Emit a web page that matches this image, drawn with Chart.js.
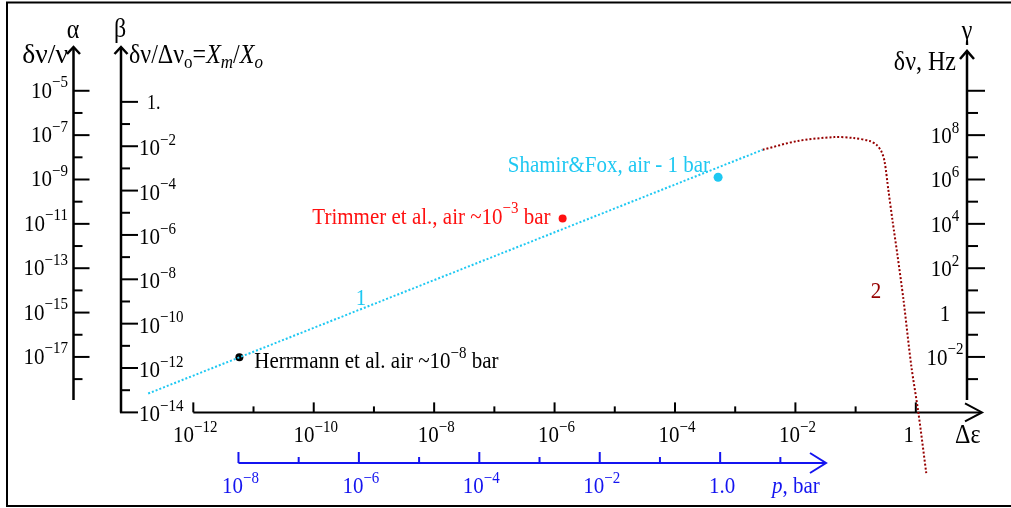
<!DOCTYPE html>
<html>
<head>
<meta charset="utf-8">
<script src="https://cdn.jsdelivr.net/npm/chart.js@4"></script>
<style>
  html, body { margin: 0; padding: 0; background: #fff; }
  #wrap { width: 1011px; height: 508px; }
</style>
</head>
<body>
<div id="wrap"><canvas id="fig" width="1011" height="508"></canvas></div>
<script>
// curve 1 (cyan, dotted): straight power law
var line1Eps = [1.78e-13, 2.86e-3];
var line1Dnu = [2.24e-4, 2.19e7];

// curve 2 (dark red, dotted): saturation then cut-off near 1
var line2Eps = [2.86e-3, 1.08e-2, 4.39e-2, 9.35e-2, 0.172, 0.224, 0.270, 0.303,
                0.352, 0.410, 0.495, 0.622, 0.841, 1.10, 1.49];
var line2Dnu = [2.19e7, 5.42e7, 8.15e7, 7.36e7, 5.42e7, 3.61e7, 1.77e7, 6.37e6,
                2.99e5, 1.40e4, 395, 4.02, 3.91e-3, 3.24e-5, 5.82e-8];

// measured points
var pointNames = ['Herrmann', 'Trimmer', 'Shamir&Fox'];
var pointEps = [5.82e-12, 1.36e-6, 5.20e-4];
var pointDnu = [9.77e-3, 1.74e4, 1.26e6];
var pointColors = ['#000000', '#ff1010', '#1ec8f2'];

// tick exponents (all axes are logarithmic)
var epsTicks = [-12, -11, -10, -9, -8, -7, -6, -5, -4, -3, -2, -1, 0];
var epsLabels = [-12, -10, -8, -6, -4, -2, 0];
var pTicks = [-8, -7, -6, -5, -4, -3, -2, -1, 0, 1];
var pLabels = [-8, -6, -4, -2, 0];
var alphaTicks = [-5, -6, -7, -8, -9, -10, -11, -12, -13, -14, -15, -16, -17, -18];
var alphaLabels = [-5, -7, -9, -11, -13, -15, -17];
var betaTicks = [0, -1, -2, -3, -4, -5, -6, -7, -8, -9, -10, -11, -12, -13, -14];
var betaLabels = [0, -2, -4, -6, -8, -10, -12, -14];
var gammaTicks = [10, 9, 8, 7, 6, 5, 4, 3, 2, 1, 0, -1, -2, -3];
var gammaLabels = [8, 6, 4, 2, 0, -2];

// scale ranges (log10 at canvas edges) and offsets between the axes
var X_MIN = -15.136, X_MAX = 1.506;
var Y_MIN = -8.608, Y_MAX = 13.890;
var P_SHIFT = 3.25;      // log p = log de + 3.25
var ALPHA_SHIFT = -15;   // log dv/v = log dv - 15
var BETA_SHIFT = -9.5;   // log dv/dv0 = log dv - 9.5

var CYAN = '#1ec8f2', DARKRED = '#960000', BLUE = '#1414f0';
var SY = 1.13; // the original lettering is a bit tall
var FONT = '"Liberation Serif", "DejaVu Serif", serif';
var TICK = 21, TITLE = 24, NOTE = 21;

function seg(t, k) { return { t: t, k: k || 'n' }; }
function fontFor(k, size) {
  var small = (k === 'sup' || k === 'sub' || k === 'isub');
  var s = small ? Math.round(size * 0.7) : size;
  var it = (k === 'i' || k === 'isub');
  return (it ? 'italic ' : '') + s + 'px ' + FONT;
}
function drawRich(ctx, segs, x, y, size, color, align, sx) {
  sx = sx || 1;
  ctx.save();
  var w = 0;
  segs.forEach(function (s) { ctx.font = fontFor(s.k, size); s.w = ctx.measureText(s.t).width; w += s.w; });
  w *= sx;
  var x0 = align === 'right' ? x - w : (align === 'center' ? x - w / 2 : x);
  ctx.translate(x0, y);
  ctx.scale(sx, SY);
  ctx.fillStyle = color;
  ctx.textAlign = 'left';
  ctx.textBaseline = 'alphabetic';
  var cx = 0;
  segs.forEach(function (s) {
    ctx.font = fontFor(s.k, size);
    var dy = s.k === 'sup' ? -0.44 * size : ((s.k === 'sub' || s.k === 'isub') ? 0.2 * size : 0);
    ctx.fillText(s.t, cx, dy);
    cx += s.w;
  });
  ctx.restore();
}
function expText(e) { return e < 0 ? '\u2212' + (-e) : String(e); }
function pow10(e) { return e === 0 ? [seg('1')] : [seg('10'), seg(expText(e), 'sup')]; }
function line(ctx, x1, y1, x2, y2) { ctx.beginPath(); ctx.moveTo(x1, y1); ctx.lineTo(x2, y2); ctx.stroke(); }
function chevron(ctx, pts) {
  ctx.beginPath(); ctx.moveTo(pts[0], pts[1]); ctx.lineTo(pts[2], pts[3]); ctx.lineTo(pts[4], pts[5]); ctx.stroke();
}

var axesPlugin = {
  id: 'axes',
  beforeDatasetsDraw: function (chart) {
    var ctx = chart.ctx, s = chart.scales;
    ctx.save();
    ctx.strokeStyle = '#000';
    ctx.lineCap = 'butt';

    // frame
    ctx.lineWidth = 2;
    ctx.strokeRect(7, 2.5, 1020, 503.5);

    // alpha axis
    var xA = 73.5;
    ctx.lineWidth = 2.5;
    line(ctx, xA, 400, xA, 47);
    chevron(ctx, [xA - 6.5, 54, xA, 47, xA + 6.5, 54]);
    ctx.lineWidth = 2;
    alphaTicks.forEach(function (e) {
      var y = s.yA.getPixelForValue(Math.pow(10, e));
      line(ctx, xA, y, xA + (e % 2 !== 0 ? 16 : 9), y);
    });

    // beta axis
    var xB = 121;
    var yB0 = s.yB.getPixelForValue(1e-14);
    ctx.lineWidth = 2.5;
    line(ctx, xB, yB0, xB, 47);
    chevron(ctx, [xB - 6.5, 54, xB, 47, xB + 6.5, 54]);
    ctx.lineWidth = 2;
    betaTicks.forEach(function (e) {
      var y = s.yB.getPixelForValue(Math.pow(10, e));
      line(ctx, xB - 1, y, xB + (e % 2 === 0 ? 17 : 9), y);
    });

    // gamma axis
    var xG = 967;
    ctx.lineWidth = 2.5;
    line(ctx, xG, 400, xG, 51);
    chevron(ctx, [xG - 7, 59, xG, 51, xG + 7, 59]);
    ctx.lineWidth = 2;
    gammaTicks.forEach(function (e) {
      var y = s.y.getPixelForValue(Math.pow(10, e));
      line(ctx, xG, y, xG + (e % 2 === 0 ? 18 : 11), y);
    });

    // delta-epsilon axis
    var xE0 = s.x.getPixelForValue(1e-12);
    ctx.lineWidth = 2;
    line(ctx, xE0, yB0, 981, yB0);
    chevron(ctx, [965, yB0 - 9, 982, yB0, 965, yB0 + 9]);
    epsTicks.forEach(function (e) {
      var x = s.x.getPixelForValue(Math.pow(10, e));
      line(ctx, x, yB0, x, yB0 - (e % 2 === 0 ? 10 : 6));
    });

    // pressure axis
    var yP = 463;
    var xP0 = s.xP.getPixelForValue(1e-8);
    ctx.strokeStyle = BLUE;
    line(ctx, xP0, yP, 825, yP);
    chevron(ctx, [810, yP - 10, 826, yP, 810, yP + 10]);
    pTicks.forEach(function (e) {
      var x = s.xP.getPixelForValue(Math.pow(10, e));
      line(ctx, x, yP, x, yP - (e % 2 === 0 ? 11 : 6));
    });
    ctx.restore();
  },
  afterDraw: function (chart) {
    var ctx = chart.ctx, s = chart.scales;
    var yB0 = s.yB.getPixelForValue(1e-14);

    alphaLabels.forEach(function (e) {
      drawRich(ctx, pow10(e), 68, s.yA.getPixelForValue(Math.pow(10, e)) + 7, TICK, '#000', 'right');
    });
    betaLabels.forEach(function (e) {
      var y = s.yB.getPixelForValue(Math.pow(10, e));
      if (e === 0) drawRich(ctx, [seg('1.')], 147, y + 7, 18, '#000', 'left');
      else drawRich(ctx, pow10(e), 139, y + 9, TICK, '#000', 'left');
    });
    gammaLabels.forEach(function (e) {
      drawRich(ctx, pow10(e), 945, s.y.getPixelForValue(Math.pow(10, e)) + 8, TICK, '#000', 'center');
    });
    epsLabels.forEach(function (e) {
      var x = s.x.getPixelForValue(Math.pow(10, e)) + (e === 0 ? -7 : 2);
      drawRich(ctx, pow10(e), x, yB0 + 30, TICK, '#000', 'center');
    });
    pLabels.forEach(function (e) {
      var lab = e === 0 ? [seg('1.0')] : pow10(e);
      drawRich(ctx, lab, s.xP.getPixelForValue(Math.pow(10, e)) + 2, 493, TICK, BLUE, 'center');
    });

    // axis titles
    drawRich(ctx, [seg('\u03b4\u03bd/\u03bd')], 68, 63, TITLE, '#000', 'right', 1.15);
    drawRich(ctx, [seg('\u03b1')], 73, 38, TITLE, '#000', 'center');
    drawRich(ctx, [seg('\u03b2')], 120, 37, TITLE, '#000', 'center');
    drawRich(ctx, [seg('\u03b4\u03bd/\u0394\u03bd'), seg('o', 'sub'), seg('='), seg('X', 'i'), seg('m', 'isub'),
                   seg('/'), seg('X', 'i'), seg('o', 'isub')], 129, 63, TITLE, '#000', 'left');
    drawRich(ctx, [seg('\u03b3')], 967, 39, TITLE, '#000', 'center');
    drawRich(ctx, [seg('\u03b4\u03bd, Hz')], 956, 70, TITLE, '#000', 'right');
    drawRich(ctx, [seg('\u0394\u03b5')], 955, 443, TITLE, '#000', 'left');
    drawRich(ctx, [seg('p', 'i'), seg(', bar')], 772, 493, TICK, BLUE, 'left');

    // curve numbers
    drawRich(ctx, [seg('1')], 361, 305, TICK, CYAN, 'center');
    drawRich(ctx, [seg('2')], 876, 298, TICK, DARKRED, 'center');

    // point labels
    var px = function (i) { return s.x.getPixelForValue(pointEps[i]); };
    var py = function (i) { return s.y.getPixelForValue(pointDnu[i]); };
    drawRich(ctx, [seg('Herrmann et al. air ~10'), seg('\u22128', 'sup'), seg(' bar')],
             px(0) + 15, py(0) + 11, NOTE, '#000', 'left');
    drawRich(ctx, [seg('Trimmer et al., air ~10'), seg('\u22123', 'sup'), seg(' bar')],
             px(1) - 12, py(1) + 5, NOTE, pointColors[1], 'right');
    drawRich(ctx, [seg('Shamir&Fox, air - 1 bar')],
             px(2) - 8, py(2) - 5, NOTE, pointColors[2], 'right');
  }
};

function xy(xs, ys) { return xs.map(function (v, i) { return { x: v, y: ys[i] }; }); }

var ctx = document.getElementById('fig').getContext('2d');
new Chart(ctx, {
  type: 'scatter',
  data: {
    datasets: [{
      label: 'curve 1',
      data: xy(line1Eps, line1Dnu),
      showLine: true,
      borderColor: CYAN,
      borderWidth: 2,
      borderDash: [2, 2],
      pointRadius: 0,
      fill: false
    }, {
      label: 'curve 2',
      data: xy(line2Eps, line2Dnu),
      showLine: true,
      borderColor: DARKRED,
      borderWidth: 2,
      borderDash: [2, 2],
      tension: 0.3,
      pointRadius: 0,
      fill: false
    }, {
      label: 'measurements',
      data: xy(pointEps, pointDnu),
      showLine: false,
      pointRadius: [4, 4, 4.5],
      pointBackgroundColor: pointColors,
      pointBorderColor: pointColors,
      pointBorderWidth: 0
    }]
  },
  options: {
    responsive: false,
    animation: false,
    events: [],
    layout: { padding: 0 },
    plugins: { legend: { display: false }, tooltip: { enabled: false } },
    scales: {
      x: { type: 'logarithmic', display: false, bounds: 'data',
           min: Math.pow(10, X_MIN), max: Math.pow(10, X_MAX) },
      xP: { type: 'logarithmic', axis: 'x', display: false, bounds: 'data',
            min: Math.pow(10, X_MIN + P_SHIFT), max: Math.pow(10, X_MAX + P_SHIFT) },
      y: { type: 'logarithmic', display: false, bounds: 'data',
           min: Math.pow(10, Y_MIN), max: Math.pow(10, Y_MAX) },
      yA: { type: 'logarithmic', axis: 'y', display: false, bounds: 'data',
            min: Math.pow(10, Y_MIN + ALPHA_SHIFT), max: Math.pow(10, Y_MAX + ALPHA_SHIFT) },
      yB: { type: 'logarithmic', axis: 'y', display: false, bounds: 'data',
            min: Math.pow(10, Y_MIN + BETA_SHIFT), max: Math.pow(10, Y_MAX + BETA_SHIFT) }
    }
  },
  plugins: [axesPlugin]
});
</script>
</body>
</html>
